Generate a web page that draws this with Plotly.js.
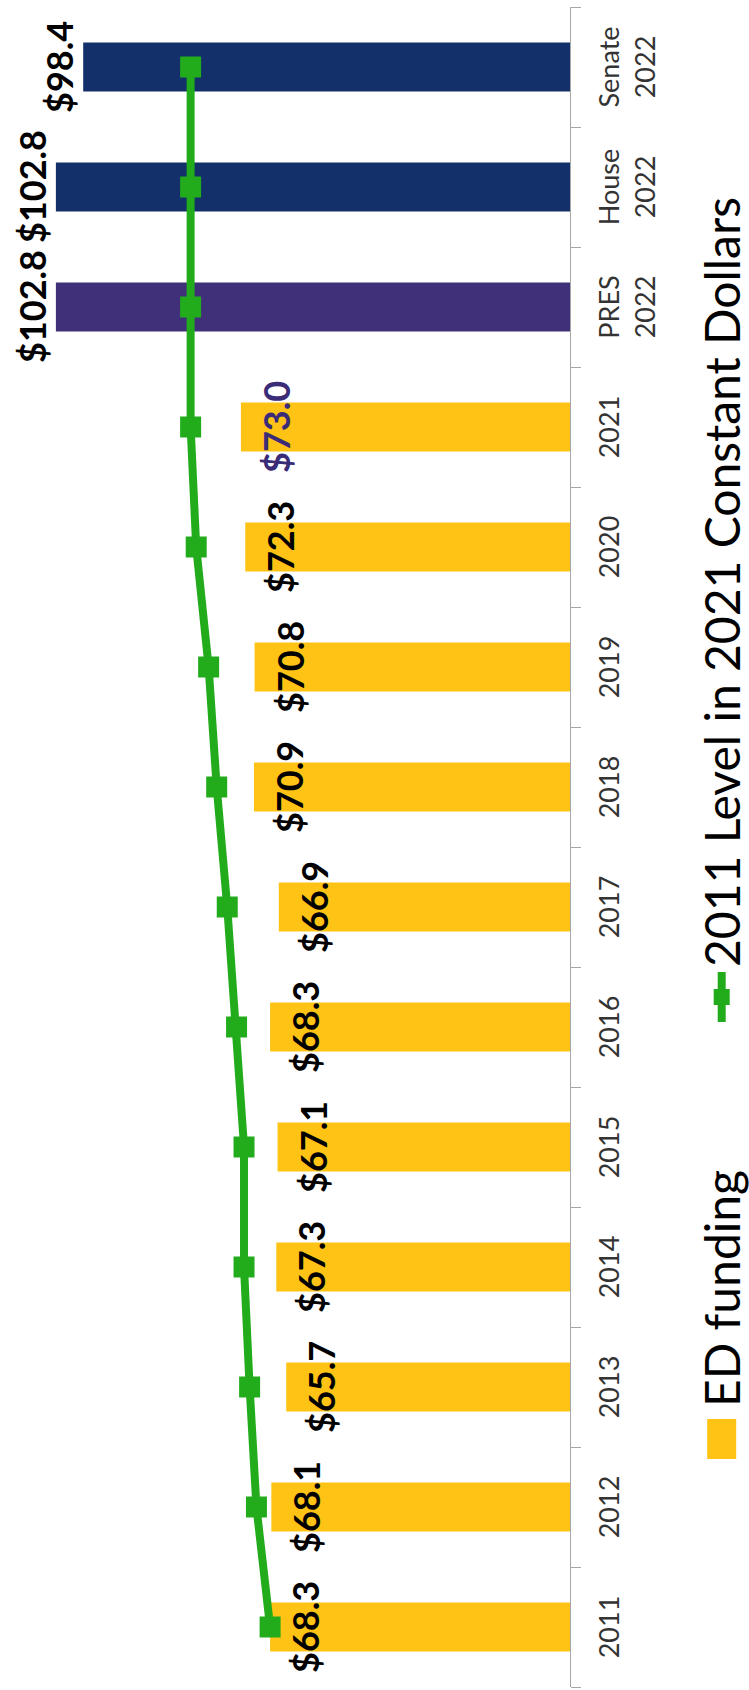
<!DOCTYPE html>
<html>
<head>
<meta charset="utf-8">
<script src="https://cdn.plot.ly/plotly-3.0.1.min.js"></script>
<style>
  html, body { margin: 0; padding: 0; background: #ffffff; }
  #wrap { position: absolute; left: 0; top: 0; width: 749px; height: 1690px; overflow: hidden; }
  #chart { position: absolute; left: 0; top: 0; width: 1690px; height: 749px;
           transform-origin: 0 0; transform: translateY(1690px) rotate(-90deg); }
</style>
</head>
<body>
<div id="wrap"><div id="chart"></div></div>
<script>
// ---- data ----
const categories = ['2011','2012','2013','2014','2015','2016','2017','2018','2019','2020','2021',
                    'PRES<br>2022','House<br>2022','Senate<br>2022'];
const edFunding  = [68.3, 68.1, 65.7, 67.3, 67.1, 68.3, 66.9, 70.9, 70.8, 72.3, 73.0, 102.8, 102.8, 98.4];
const level2011  = [68.3, 70.5, 71.6, 72.5, 72.5, 73.7, 75.2, 76.9, 78.2, 80.2, 81.1, 81.1, 81.1, 81.1];
const seriesNames = ['ED funding', '2011 Level in 2021 Constant Dollars'];

// ---- styles ----
const YELLOW = '#fec314', PURPLE = '#40307a', NAVY = '#13306a', GREEN = '#22ac1c';
const barColors   = categories.map((c, i) => i < 11 ? YELLOW : (i === 11 ? PURPLE : NAVY));
const labelColors = categories.map((c, i) => i === 10 ? '#3b2c78' : '#000000');
const labelOutside = categories.map((c, i) => i >= 11);

const FONT = 'Lato, "Open Sans", sans-serif';

const traces = [
  {
    type: 'bar', name: seriesNames[0],
    x: categories, y: edFunding,
    marker: { color: barColors },
    legend: 'legend',
    hoverinfo: 'skip'
  },
  {
    type: 'scatter', mode: 'lines+markers', name: seriesNames[1],
    x: categories, y: level2011,
    line: { color: GREEN, width: 8 },
    marker: { color: GREEN, symbol: 'square', size: 21 },
    cliponaxis: false,
    legend: 'legend2',
    hoverinfo: 'skip'
  }
];

// value labels: placed at each bar's value on the library's own axes
const annotations = categories.map((c, i) => ({
  x: i, y: edFunding[i], xref: 'x', yref: 'y',
  text: '$' + edFunding[i].toFixed(1),
  showarrow: false,
  font: { family: FONT, size: 36, color: labelColors[i], weight: 'bold' },
  xanchor: 'center',
  yanchor: labelOutside[i] ? 'bottom' : 'top',
  yshift: labelOutside[i] ? 0 : -11
}));

const legendCommon = {
  orientation: 'h', xref: 'container', yref: 'container',
  xanchor: 'left', y: 1 - 722 / 749, yanchor: 'middle',
  font: { family: FONT, size: 48, color: '#000000' },
  itemwidth: 50,
  bgcolor: 'rgba(0,0,0,0)', borderwidth: 0
};

const layout = {
  width: 1690, height: 749,
  margin: { l: 3, r: 7, t: 0, b: 179, pad: 0 },
  paper_bgcolor: '#ffffff', plot_bgcolor: '#ffffff',
  font: { family: FONT, color: '#000000' },
  bargap: 0.59,
  xaxis: {
    type: 'category', range: [-0.5, 13.5], fixedrange: true,
    tickson: 'boundaries', ticks: 'outside', ticklen: 10, tickcolor: '#a6a6a6', tickwidth: 1,
    showline: true, linecolor: '#a6a6a6', linewidth: 1,
    showgrid: false, zeroline: false,
    tickfont: { family: FONT, size: 27, color: '#333333' },
    ticklabelstandoff: 16,
    tickangle: 0
  },
  yaxis: { range: [20, 111.8], visible: false, showgrid: false, zeroline: false, fixedrange: true },
  showlegend: true,
  legend:  Object.assign({}, legendCommon, { x: 223 / 1690 }),
  legend2: Object.assign({}, legendCommon, { x: 663 / 1690 }),
  annotations: annotations
};

function toLocal(el, ref) {
  // matrix mapping el's user space into ref's user space
  return ref.getCTM().inverse().multiply(el.getCTM());
}

Plotly.newPlot('chart', traces, layout, { displayModeBar: false, staticPlot: true }).then(function (gd) {
  // resize legend swatches to the reference's proportions, placed just before each label
  gd.querySelectorAll('g.traces').forEach(function (tr) {
    var txt = tr.querySelector('text.legendtext');
    var pts = tr.querySelector('g.legendpoints');
    if (!txt || !pts) return;
    var tb = txt.getBBox();
    var mt = toLocal(txt, tr);
    var textLeft = mt.a * tb.x + mt.c * (tb.y + tb.height / 2) + mt.e;
    var line = pts.querySelector('path.js-line');
    var place = function (p, c) {
      var mp = toLocal(p.parentNode, tr);
      var cx = (c - mp.e) / (mp.a || 1);
      p.setAttribute('transform', 'translate(' + cx + ',0)');
    };
    if (line) {
      var c = textLeft - 30;
      line.setAttribute('d', 'M-20,0h40');
      place(line, c);
      line.style.strokeWidth = '11px';
      line.style.strokeLinecap = 'round';
      pts.querySelectorAll('path.scatterpts').forEach(function (p) {
        p.setAttribute('d', 'M10.5,10.5H-10.5V-10.5H10.5Z');
        place(p, c);
      });
    } else {
      pts.querySelectorAll('path').forEach(function (p) {
        p.setAttribute('d', 'M20,14.5H-20V-14.5H20Z');
        place(p, textLeft - 32);
      });
    }
  });
});
</script>
</body>
</html>
